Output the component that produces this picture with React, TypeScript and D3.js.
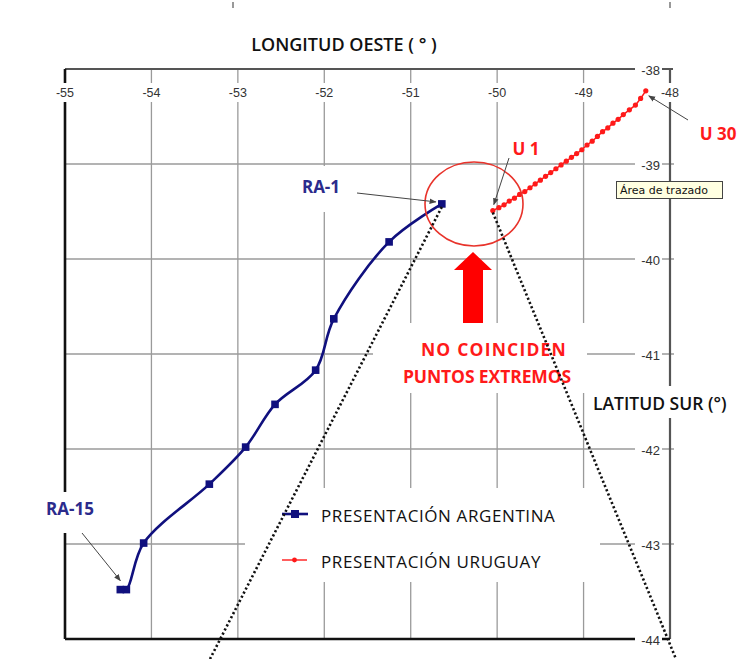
import React from "react";
import * as d3 from "d3";

// axis ticks
const lonTicks = [-55, -54, -53, -52, -51, -50, -49, -48];
const latTicks = [-38, -39, -40, -41, -42, -43, -44];

// Argentine presentation (RA-1 ... RA-15)
const argLon = [-50.64, -51.25, -51.89, -52.1, -52.57, -52.91, -53.33, -54.09, -54.29, -54.36];
const argLat = [-39.42, -39.82, -40.63, -41.17, -41.53, -41.98, -42.37, -42.99, -43.48, -43.48];

// Uruguayan presentation (U 1 ... U 30)
const uruLon = [
  -50.05, -49.98, -49.92, -49.86, -49.8, -49.74, -49.68, -49.62, -49.56, -49.5,
  -49.44, -49.38, -49.32, -49.26, -49.2, -49.14, -49.08, -49.02, -48.96, -48.9,
  -48.84, -48.78, -48.72, -48.66, -48.6, -48.54, -48.47, -48.4, -48.34, -48.28,
];
const uruLat = [
  -39.49, -39.46, -39.43, -39.39, -39.36, -39.32, -39.29, -39.25, -39.21, -39.17,
  -39.13, -39.09, -39.05, -39.01, -38.97, -38.93, -38.89, -38.85, -38.8, -38.76,
  -38.71, -38.66, -38.62, -38.57, -38.53, -38.48, -38.43, -38.38, -38.31, -38.23,
];

const seriesNames = ["PRESENTACIÓN ARGENTINA", "PRESENTACIÓN URUGUAY"];

const W = 749;
const H = 659;
const left = 65;
const right = 670;
const top = 69;
const bottom = 639;

const NAVY = "#10107e";
const RED = "#ff1a1a";
const GRID = "#9a9a9a";
const FONT = "'Open Sans', 'Liberation Sans', sans-serif";
const TICKFONT = "'Liberation Sans', Arial, sans-serif";

const App: React.FC = () => {
  const x = d3.scaleLinear().domain([-55, -48]).range([left, right]);
  const y = d3.scaleLinear().domain([-38, -44]).range([top, bottom]);

  const argPts: [number, number][] = argLon.map((v, i) => [x(v), y(argLat[i])]);
  const uruPts: [number, number][] = uruLon.map((v, i) => [x(v), y(uruLat[i])]);

  const argLine = d3.line().curve(d3.curveCatmullRom.alpha(0.5))(argPts) as string;
  const uruLine = d3.line()(uruPts) as string;

  // white boxes that hide the grid behind labels
  const boxes = [
    { x: 245, y: 488, w: 355, h: 94 }, // legend
    { x: 373, y: 323, w: 214, h: 70 }, // no coinciden
    { x: 587, y: 386, w: 150, h: 32 }, // latitud sur
    { x: 290, y: 166, w: 60, h: 46 }, // RA-1
    { x: 38, y: 492, w: 64, h: 41 }, // RA-15
  ];

  const ra1 = argPts[0];
  const u1 = uruPts[0];
  const u30 = uruPts[uruPts.length - 1];
  const ra15 = argPts[argPts.length - 1];

  return (
    <div style={{ position: "absolute", left: 0, top: 0 }}>
      <svg width={W} height={H} style={{ display: "block", background: "#fff" }}>
        <defs>
          <marker id="ah" viewBox="0 0 10 10" refX="9" refY="5" markerWidth="7" markerHeight="7" orient="auto">
            <path d="M0,1 L10,5 L0,9 Z" fill="#444" />
          </marker>
        </defs>
        <rect width={W} height={H} fill="#fff" />
        <line x1={233} x2={233} y1={2} y2={8} stroke="#777" strokeWidth={1.5} />
        <line x1={670} x2={670} y1={2} y2={8} stroke="#777" strokeWidth={1.5} />

        {/* grid */}
        {lonTicks.slice(1, -1).map((v) => (
          <line key={"gx" + v} x1={x(v)} x2={x(v)} y1={top} y2={bottom} stroke={GRID} strokeWidth={1.3} />
        ))}
        {latTicks.slice(1, -1).map((v) => (
          <line key={"gy" + v} x1={left} x2={right + 4} y1={y(v)} y2={y(v)} stroke={GRID} strokeWidth={1.3} />
        ))}

        {/* frame */}
        <line x1={left} x2={right + 3} y1={top} y2={top} stroke="#555" strokeWidth={2} />
        <line x1={right} x2={right} y1={top} y2={bottom} stroke="#555" strokeWidth={2.2} />
        <line x1={left} x2={left} y1={top} y2={bottom} stroke="#111" strokeWidth={2.6} />
        <line x1={left} x2={right} y1={bottom} y2={bottom} stroke="#111" strokeWidth={2.6} />

        {boxes.map((b, i) => (
          <rect key={"b" + i} x={b.x} y={b.y} width={b.w} height={b.h} fill="#fff" />
        ))}

        {/* top axis labels */}
        {lonTicks.map((v) => (
          <g key={"tx" + v}>
            <rect x={x(v) - 12} y={83} width={24} height={19} fill="#fff" />
            <text x={x(v)} y={93} textAnchor="middle" dominantBaseline="central" fontFamily={TICKFONT} fontSize={12.5} fill="#333">
              {String(v)}
            </text>
          </g>
        ))}
        {/* right axis labels */}
        {latTicks.map((v) => (
          <g key={"ty" + v}>
            <rect x={635} y={y(v) - 8} width={27} height={16} fill="#fff" />
            <text x={660} y={y(v) + 1} textAnchor="end" dominantBaseline="central" fontFamily={TICKFONT} fontSize={13} fill="#333">
              {String(v)}
            </text>
          </g>
        ))}

        <text x={344} y={44} textAnchor="middle" dominantBaseline="central" fontFamily={FONT} fontWeight={600} fontSize={18} fill="#111">
          LONGITUD OESTE ( ° )
        </text>
        <text x={593} y={403} dominantBaseline="central" fontFamily={FONT} fontWeight={600} fontSize={17.5} fill="#111">
          LATITUD SUR (°)
        </text>

        {/* series */}
        <path d={argLine} fill="none" stroke={NAVY} strokeWidth={2.6} />
        {argPts.map((p, i) => (
          <rect key={"am" + i} x={p[0] - 3.8} y={p[1] - 3.8} width={7.6} height={7.6} fill={NAVY} />
        ))}
        <path d={uruLine} fill="none" stroke={RED} strokeWidth={1.5} />
        {uruPts.map((p, i) => (
          <circle key={"um" + i} cx={p[0]} cy={p[1]} r={2.6} fill={RED} />
        ))}

        {/* legend */}
        <line x1={282} x2={308} y1={514} y2={514} stroke={NAVY} strokeWidth={2.6} />
        <rect x={291} y={510} width={8} height={8} fill={NAVY} />
        <text x={321} y={515} dominantBaseline="central" fontFamily={FONT} fontWeight={500} fontSize={17} letterSpacing={0.6} fill="#111">
          {seriesNames[0]}
        </text>
        <line x1={282} x2={307} y1={560} y2={560} stroke={RED} strokeWidth={1.4} />
        <circle cx={294.5} cy={560} r={2.4} fill={RED} />
        <text x={321} y={561} dominantBaseline="central" fontFamily={FONT} fontWeight={500} fontSize={17} letterSpacing={0.6} fill="#111">
          {seriesNames[1]}
        </text>

        {/* annotations */}
        <ellipse cx={474} cy={204} rx={49} ry={42} fill="none" stroke="#e8332b" strokeWidth={1.6} />
        <path d="M473,252 L492,270 L483,270 L483,323 L463,323 L463,270 L454,270 Z" fill="#ff0000" />
        <text x={494} y={349} textAnchor="middle" dominantBaseline="central" fontFamily={FONT} fontWeight={700} fontSize={17.5} letterSpacing={1.2} fill={RED}>
          NO COINCIDEN
        </text>
        <text x={487} y={376} textAnchor="middle" dominantBaseline="central" fontFamily={FONT} fontWeight={700} fontSize={17.5} letterSpacing={-0.1} fill={RED}>
          PUNTOS EXTREMOS
        </text>

        <text x={321} y={186} textAnchor="middle" dominantBaseline="central" fontFamily={FONT} fontWeight={700} fontSize={17} fill="#2b2b8c">
          RA-1
        </text>
        <line x1={357} y1={193} x2={ra1[0] - 6} y2={ra1[1] - 2} stroke="#444" strokeWidth={1} markerEnd="url(#ah)" />
        <text x={70} y={508} textAnchor="middle" dominantBaseline="central" fontFamily={FONT} fontWeight={700} fontSize={17} fill="#2b2b8c">
          RA-15
        </text>
        <line x1={82} y1={533} x2={ra15[0]} y2={ra15[1] - 9} stroke="#444" strokeWidth={1} markerEnd="url(#ah)" />

        <text x={526} y={148} textAnchor="middle" dominantBaseline="central" fontFamily={FONT} fontWeight={700} fontSize={17} fill={RED}>
          U 1
        </text>
        <line x1={509} y1={158} x2={u1[0] + 1} y2={u1[1] - 6} stroke="#444" strokeWidth={1} markerEnd="url(#ah)" />
        <text x={718} y={133} textAnchor="middle" dominantBaseline="central" fontFamily={FONT} fontWeight={700} fontSize={17} fill={RED}>
          U 30
        </text>
        <line x1={688} y1={120} x2={u30[0] + 3} y2={u30[1] + 5} stroke="#444" strokeWidth={1} markerEnd="url(#ah)" />

        {/* zoom guide lines */}
        <line x1={ra1[0]} y1={ra1[1] + 3} x2={210} y2={H} stroke="#111" strokeWidth={2.6} strokeDasharray="2.2 2.4" />
        <line x1={u1[0]} y1={u1[1] + 2} x2={676} y2={H} stroke="#111" strokeWidth={2.6} strokeDasharray="2.2 2.4" />

        {/* tooltip */}
        <rect x={616.5} y={181.5} width={106} height={17} fill="#ffffe1" stroke="#444" strokeWidth={1} />
        <text x={620} y={190.5} dominantBaseline="central" fontFamily="'DejaVu Sans', sans-serif" fontSize={11} fill="#111">
          Área de trazado
        </text>
      </svg>
    </div>
  );
};

export default App;
